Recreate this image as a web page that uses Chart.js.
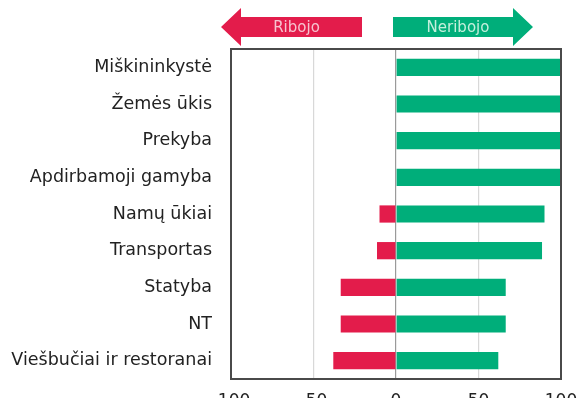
<!DOCTYPE html>
<html lang="lt">
<head>
<meta charset="utf-8">
<script src="https://cdn.jsdelivr.net/npm/chart.js@4/dist/chart.umd.min.js"></script>
<style>
  html, body { margin: 0; padding: 0; background: #ffffff; }
  #wrap { width: 581px; height: 398px; overflow: hidden; position: relative; }
  canvas { display: block; }
</style>
</head>
<body>
<div id="wrap"><canvas id="c" width="581" height="422"></canvas></div>
<script>
// Sectors
const categories = [
  'Miškininkystė',
  'Žemės ūkis',
  'Prekyba',
  'Apdirbamoji gamyba',
  'Namų ūkiai',
  'Transportas',
  'Statyba',
  'NT',
  'Viešbučiai ir restoranai'
];
// Share of respondents whose activity was restricted (plotted to the left)
const ribojo = [0, 0, 0, 0, 10, 11.5, 33.5, 33.5, 38];
// Share of respondents whose activity was not restricted (plotted to the right)
const neribojo = [100, 100, 100, 100, 90, 88.5, 66.5, 66.5, 62];
// Axis ticks
const xTicks = [-100, -50, 0, 50, 100];
const arrowLabels = ['Ribojo', 'Neribojo'];

const RED = '#e31c4b';
const GREEN = '#00ae7a';
const FONT = "DejaVu Sans, Verdana, sans-serif";

// Two direction arrows above the plot, plus a frame around the plot area
const decor = {
  id: 'decor',
  afterDraw(chart) {
    const ctx = chart.ctx;
    const a = chart.chartArea;
    const xs = chart.scales.x;
    const zero = xs.getPixelForValue(0);
    const cy = 27, bodyH = 20, headH = 38, headL = 20;

    function arrow(tail, tip, color, textColor, label) {
      const dir = tip > tail ? 1 : -1;
      const neck = tip - dir * headL;
      ctx.save();
      ctx.fillStyle = color;
      ctx.beginPath();
      ctx.moveTo(tail, cy - bodyH / 2);
      ctx.lineTo(neck, cy - bodyH / 2);
      ctx.lineTo(neck, cy - headH / 2);
      ctx.lineTo(tip, cy);
      ctx.lineTo(neck, cy + headH / 2);
      ctx.lineTo(neck, cy + bodyH / 2);
      ctx.lineTo(tail, cy + bodyH / 2);
      ctx.closePath();
      ctx.fill();
      ctx.fillStyle = textColor;
      ctx.font = '15px ' + FONT;
      ctx.textAlign = 'center';
      ctx.textBaseline = 'middle';
      ctx.fillText(label, (tail + tip) / 2 - dir * headL / 4, cy + 1);
      ctx.restore();
    }
    arrow(zero - 34, a.left - 10, RED, '#f7c3cf', arrowLabels[0]);
    arrow(zero - 3, a.right - 28, GREEN, '#c4efdc', arrowLabels[1]);

    ctx.save();
    ctx.strokeStyle = '#4a4a4a';
    ctx.lineWidth = 2;
    ctx.strokeRect(a.left, a.top, a.right - a.left, a.bottom - a.top);
    ctx.restore();
  }
};

new Chart(document.getElementById('c'), {
  type: 'bar',
  data: {
    labels: categories,
    datasets: [
      {
        label: arrowLabels[0],
        data: ribojo.map(v => -v),
        backgroundColor: RED,
        borderWidth: 0,
        categoryPercentage: 1,
        barPercentage: 0.47
      },
      {
        label: arrowLabels[1],
        data: neribojo,
        backgroundColor: GREEN,
        borderWidth: 0,
        categoryPercentage: 1,
        barPercentage: 0.47
      }
    ]
  },
  options: {
    indexAxis: 'y',
    responsive: false,
    animation: false,
    layout: { padding: { top: 49, right: 20, left: 0, bottom: 0 } },
    plugins: {
      legend: { display: false },
      tooltip: { enabled: false }
    },
    scales: {
      x: {
        stacked: true,
        min: -100,
        max: 100,
        afterBuildTicks(scale) { scale.ticks = xTicks.map(v => ({ value: v })); },
        afterFit(scale) {
          scale.height = 43;
          scale.paddingLeft = 0;
          scale.paddingRight = 0;
        },
        border: { display: false },
        grid: {
          drawTicks: false,
          lineWidth: 1.2,
          color: ctx => (ctx.tick && ctx.tick.value === 0) ? '#9a9a9a' : '#d8d8d8'
        },
        ticks: {
          padding: 12,
          color: '#222222',
          font: { family: FONT, size: 17 }
        }
      },
      y: {
        stacked: true,
        afterFit(scale) { scale.width = 231; },
        border: { display: false },
        grid: { display: false, drawTicks: false },
        ticks: {
          padding: 19,
          color: '#222222',
          font: { family: FONT, size: 17.5 }
        }
      }
    }
  },
  plugins: [decor]
});
</script>
</body>
</html>
